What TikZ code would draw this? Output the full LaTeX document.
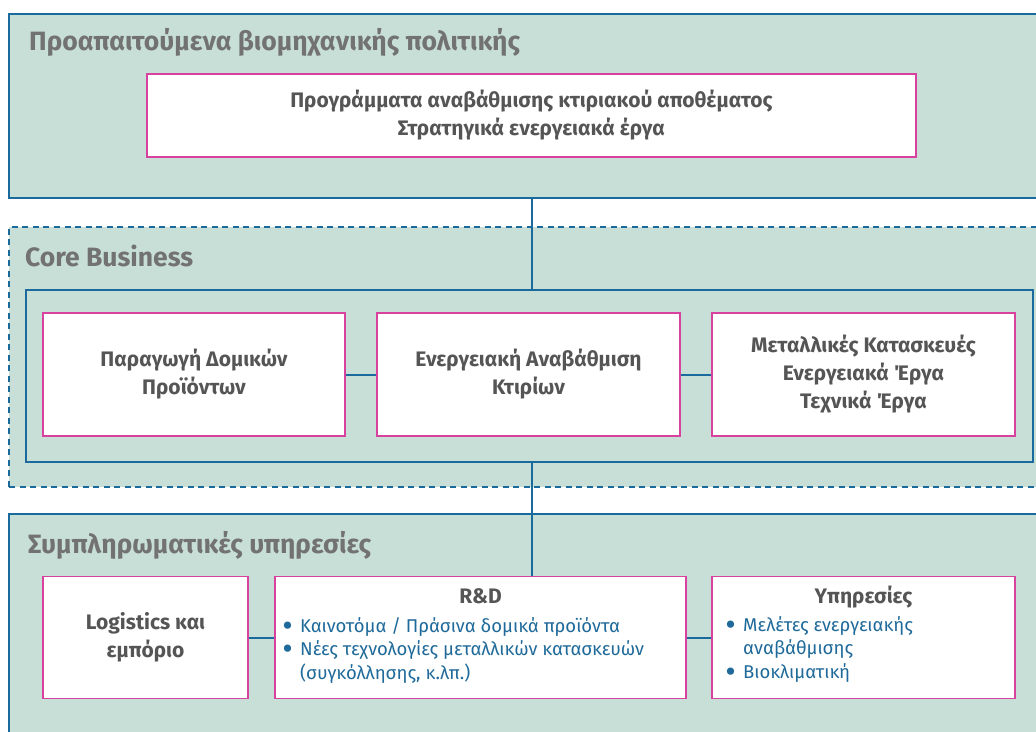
\documentclass[tikz,border=0pt]{standalone}
\usepackage{fontspec}
\setmainfont{Fira Sans}
\definecolor{panelfill}{HTML}{C8DFD8}
\definecolor{lineblue}{HTML}{1A6A9B}
\definecolor{boxpink}{HTML}{D9419E}
\definecolor{textgrey}{HTML}{555555}
\definecolor{titlegrey}{HTML}{727272}
\definecolor{bulletblue}{HTML}{1F6A9A}
\newcommand\mybul{\makebox[17pt][l]{\raisebox{-2pt}{\scalebox{1.4}{\bfseries •}}}}
\newcommand\myind{\hspace*{17pt}}
\tikzset{
  panel/.style={draw=lineblue, line width=2pt, fill=panelfill, anchor=north west, inner sep=0pt},
  dpanel/.style={panel, dash pattern=on 6pt off 4.5pt},
  ipanel/.style={draw=lineblue, line width=2pt, anchor=north west, inner sep=0pt},
  wbox/.style={draw=boxpink, line width=1.4pt, fill=white, inner sep=0pt, align=center,
    text=textgrey, font=\fontsize{21}{28}\selectfont\bfseries},
  ptitle/.style={anchor=base west, inner sep=0pt, text=titlegrey, font=\fontsize{26.5}{30}\selectfont\bfseries},
  btitle/.style={anchor=base, inner sep=0pt, text=textgrey, font=\fontsize{21}{24}\selectfont\bfseries},
  blist/.style={anchor=north west, inner sep=0pt, align=left, text=bulletblue, font=\fontsize{18.5}{23.5}\selectfont},
  conn/.style={draw=lineblue, line width=2pt}
}
\begin{document}
\begin{tikzpicture}[x=1pt,y=-1pt]
\useasboundingbox (0,0) rectangle (1036,731);
\clip (0,0) rectangle (1036,731);
% panels
\node[panel, minimum width=1040pt, minimum height=184pt] (pre) at (8,13) {};
\node[dpanel, minimum width=1040pt, minimum height=260pt] (cb) at (8,226) {};
\node[ipanel, minimum width=1007pt, minimum height=172pt] (core) at (25,289) {};
\node[panel, minimum width=1040pt, minimum height=240pt] (sup) at (8,513) {};
% titles
\node[ptitle] (t1) at (29,50) {Προαπαιτούμενα βιομηχανικής πολιτικής};
\node[ptitle] (t2) at (25,266) {Core Business};
\node[ptitle] (t3) at (28,553) {Συμπληρωματικές υπηρεσίες};
% white boxes
\node[wbox, minimum width=769pt, minimum height=83pt] (top) at (531.5,115.5)
  {Προγράμματα αναβάθμισης κτιριακού αποθέματος\\Στρατηγικά ενεργειακά έργα};
\node[wbox, minimum width=302pt, minimum height=123pt] (pp) at (194,374.5)
  {Παραγωγή Δομικών\\Προϊόντων};
\node[wbox, minimum width=303pt, minimum height=123pt] (ea) at (528.5,374.5)
  {Ενεργειακή Αναβάθμιση\\Κτιρίων};
\node[wbox, minimum width=303pt, minimum height=123pt] (mk) at (863.5,374.5)
  {Μεταλλικές Κατασκευές\\Ενεργειακά Έργα\\Τεχνικά Έργα};
\node[wbox, minimum width=205pt, minimum height=122pt] (lg) at (145.5,637.5)
  {Logistics και\\εμπόριο};
\node[wbox, minimum width=411pt, minimum height=122pt] (rd) at (480.5,637.5) {};
\node[wbox, minimum width=303pt, minimum height=122pt] (yp) at (863.5,637.5) {};
% connectors
\draw[conn] (top.south |- pre.south) -- (top.south |- core.north);
\draw[conn] (top.south |- core.south) -- (top.south |- rd.north);
\draw[conn] (pp.east) -- (ea.west);
\draw[conn] (ea.east) -- (mk.west);
\draw[conn] (lg.east) -- (rd.west);
\draw[conn] (rd.east) -- (yp.west);
% box contents
\node[btitle] (rdt) at (480.5,603) {R\&D};
\node[blist] (rdl) at (283,617)
  {\mybul Καινοτόμα / Πράσινα δομικά προϊόντα\\\mybul Νέες τεχνολογίες μεταλλικών κατασκευών\\\myind(συγκόλλησης, κ.λπ.)};
\node[btitle] (ypt) at (863.5,603) {Υπηρεσίες};
\node[blist] (ypl) at (726,616)
  {\mybul Μελέτες ενεργειακής\\\myind αναβάθμισης\\\mybul Βιοκλιματική};
\end{tikzpicture}
\end{document}
